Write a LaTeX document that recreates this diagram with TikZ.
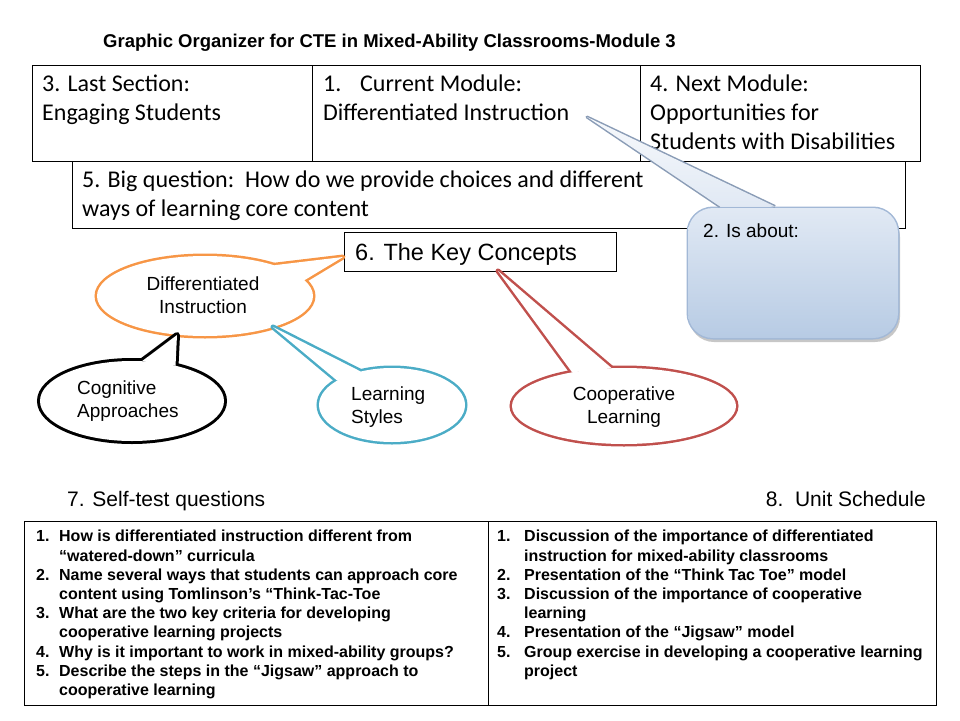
\documentclass[tikz,border=0pt]{standalone}
\usepackage{fontspec}
\setmainfont{Liberation Sans}
\newfontfamily\calibri{Carlito}
\usetikzlibrary{shapes,calc}
\definecolor{diffcolor}{HTML}{F79646}
\definecolor{stylecolor}{HTML}{4BACC6}
\definecolor{coopcolor}{HTML}{C0504D}
\definecolor{abouttop}{HTML}{E1E9F4}
\definecolor{aboutbottom}{HTML}{B7CBE4}
\definecolor{aboutline}{HTML}{A2B8D6}

\begin{document}
\begin{tikzpicture}[x=1pt, y=-1pt, box/.style={draw, line width=0.9pt, inner sep=0, outer sep=0, anchor=north west}, boxtext/.style={font=\calibri\fontsize{24}{29}\selectfont, align=left, anchor=north west, inner sep=0}, bubble/.style={ellipse, draw=#1, line width=5pt, inner sep=0, outer sep=0}, bubbletext/.style={font=\fontsize{19}{23}\selectfont, inner sep=0}, listtext/.style={font=\bfseries\fontsize{16}{19.2}\selectfont, align=left, anchor=north west, inner sep=0}]
\useasboundingbox (0,0) rectangle (960,720);
\node[inner sep=0, anchor=base west, font=\bfseries\fontsize{18.5}{22}\selectfont] (title) at (103,47.3) {Graphic Organizer for CTE in Mixed-Ability Classrooms-Module 3};

\node[box, minimum width=280, minimum height=96] (last) at (32,65) {};
\node[box, minimum width=328, minimum height=96] (current) at (312,65) {};
\node[box, minimum width=280, minimum height=96] (next) at (640,65) {};
\node[boxtext] (lasttext) at (42,71.2) {\strut 3. Last Section:\\\strut Engaging Students};
\node[boxtext] (currenttext) at (323,71.2) {\strut\makebox[37pt][l]{1.}Current Module:\\\strut Differentiated Instruction};
\node[boxtext] (nexttext) at (650,71.2) {\strut 4. Next Module:\\\strut Opportunities for\\\strut Students with Disabilities};

\node[box, fill=white, minimum width=833, minimum height=67] (big) at (72,161) {};
\node[boxtext] (bigtext) at (82,166.7) {\strut 5. Big question:\ \ How do we provide choices and different\\\strut ways of learning core content};

\node[box, fill=white, minimum width=272, minimum height=39] (keys) at (344,232) {};
\node[inner sep=0, anchor=base west, font=\fontsize{23.5}{28}\selectfont] (keystext) at (355,260.4) {6. The Key Concepts};

\coordinate (difftip) at (343,257);
\node[bubble=diffcolor, minimum width=216, minimum height=80] (diff) at (205,296) {};
\draw[diffcolor, line width=5pt, line join=round] (diff.24) -- (difftip) -- (diff.9);
\fill[white] (diff.center) ellipse [x radius=108, y radius=40];
\fill[white] (diff.24) -- (difftip) -- (diff.9) -- cycle;
\node[bubbletext, align=center] (difftext) at (203,295.5) {Differentiated\\Instruction};

\coordinate (cogtip) at (177,335);
\node[bubble=black, line width=6pt, minimum width=184, minimum height=80] (cog) at (132,401) {};
\draw[black, line width=6pt, line join=round] (cog.76) -- (cogtip) -- (cog.39);
\fill[white] (cog.center) ellipse [x radius=92, y radius=40];
\fill[white] (cog.76) -- (cogtip) -- (cog.39) -- cycle;
\node[bubbletext, align=left, anchor=west] (cogtext) at (77,401) {Cognitive\\Approaches};

\coordinate (styletip) at (273,327);
\node[bubble=stylecolor, minimum width=146, minimum height=74] (style) at (392,405) {};
\draw[stylecolor, line width=5pt, line join=round] (style.156) -- (styletip) -- (style.133);
\fill[white] (style.center) ellipse [x radius=73, y radius=37];
\fill[white] (style.156) -- (styletip) -- (style.133) -- cycle;
\node[bubbletext, align=left, anchor=west] (styletext) at (351,407) {Learning\\Styles};

\coordinate (cooptip) at (498,271);
\node[bubble=coopcolor, minimum width=224, minimum height=76] (coop) at (624,406) {};
\draw[coopcolor, line width=5pt, line join=round] (coop.147) -- (cooptip) -- (coop.108);
\fill[white] (coop.center) ellipse [x radius=112, y radius=38];
\fill[white] (coop.147) -- (cooptip) -- (coop.108) -- cycle;
\node[bubbletext, align=center] (cooptext) at (624,407.5) {Cooperative\\Learning};

\coordinate (abouttip) at (587,117);
\node[minimum width=210, minimum height=130, inner sep=0, outer sep=0] (about) at (793,273) {};
\coordinate (aboutA) at ($(about.north west)+(32,-1.5)$);
\coordinate (aboutB) at ($(about.north west)+(87,-1.5)$);
\fill[black!22, rounded corners=25] ($(about.north west)+(1,4)$) rectangle ($(about.south east)+(2,4)$);
\draw[aboutline, line width=3pt, rounded corners=25] (about.north west) rectangle (about.south east);
\draw[aboutline!85!black, line width=3pt, line join=round] (aboutA) -- (abouttip) -- (aboutB);
\shade[top color=abouttop, bottom color=aboutbottom, rounded corners=25] (about.north west) rectangle (about.south east);
\shade[top color=white!70!abouttop, bottom color=abouttop] (aboutA) -- (abouttip) -- (aboutB) -- cycle;
\node[inner sep=0, anchor=west, font=\fontsize{19}{23}\selectfont] (abouttext) at (703,231) {2. Is about:};

\node[inner sep=0, anchor=base west, font=\fontsize{21}{25}\selectfont] (quizhead) at (67,506.5) {7. Self-test questions};
\node[inner sep=0, anchor=base east, font=\fontsize{21}{25}\selectfont] (schedhead) at (926,506.5) {8.\ \ Unit Schedule};

\node[box, minimum width=464, minimum height=184] (quiz) at (24,521) {};
\node[box, minimum width=448, minimum height=184] (sched) at (488,521) {};
\node[listtext] (quiztext) at (36,528.3) {\strut\makebox[23pt][l]{1.}How is differentiated instruction different from\\
\strut\hspace*{23pt}“watered-down” curricula\\
\strut\makebox[23pt][l]{2.}Name several ways that students can approach core\\
\strut\hspace*{23pt}content using Tomlinson’s “Think-Tac-Toe\\
\strut\makebox[23pt][l]{3.}What are the two key criteria for developing\\
\strut\hspace*{23pt}cooperative learning projects\\
\strut\makebox[23pt][l]{4.}Why is it important to work in mixed-ability groups?\\
\strut\makebox[23pt][l]{5.}Describe the steps in the “Jigsaw” approach to\\
\strut\hspace*{23pt}cooperative learning};
\node[listtext] (schedtext) at (497,528.3) {\strut\makebox[27pt][l]{1.}Discussion of the importance of differentiated\\
\strut\hspace*{27pt}instruction for mixed-ability classrooms\\
\strut\makebox[27pt][l]{2.}Presentation of the “Think Tac Toe” model\\
\strut\makebox[27pt][l]{3.}Discussion of the importance of cooperative\\
\strut\hspace*{27pt}learning\\
\strut\makebox[27pt][l]{4.}Presentation of the “Jigsaw” model\\
\strut\makebox[27pt][l]{5.}Group exercise in developing a cooperative learning\\
\strut\hspace*{27pt}project};
\end{tikzpicture}
\end{document}
